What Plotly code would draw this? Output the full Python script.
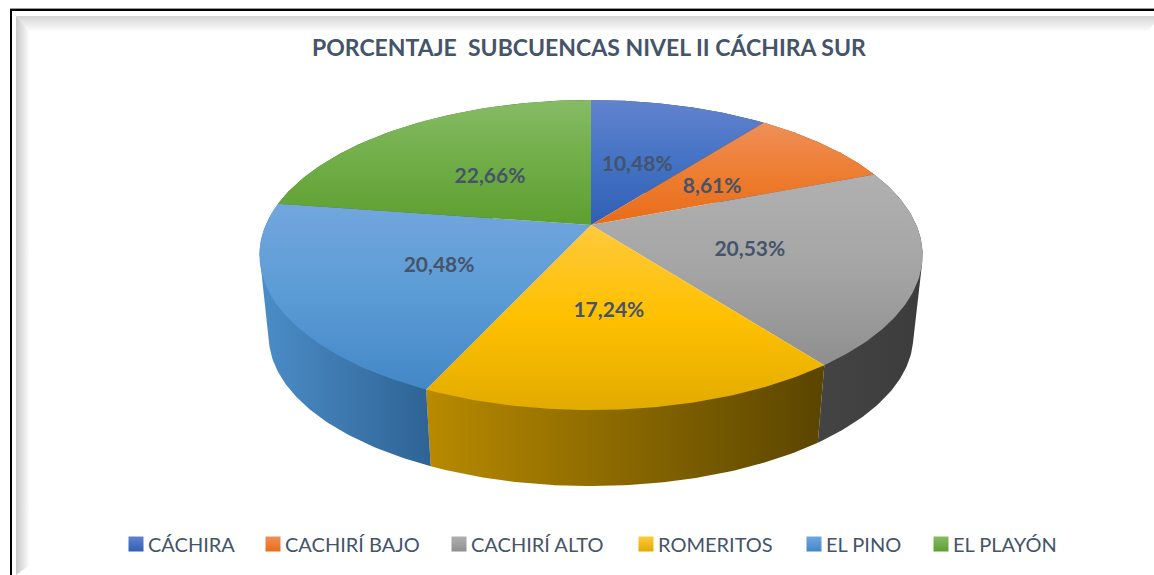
import math
import plotly.graph_objects as go

categories = ["CÁCHIRA", "CACHIRÍ BAJO", "CACHIRÍ ALTO", "ROMERITOS", "EL PINO", "EL PLAYÓN"]
values = [10.48, 8.61, 20.53, 17.24, 20.48, 22.66]
title_text = "PORCENTAJE  SUBCUENCAS NIVEL II CÁCHIRA SUR"

top_colors = [
    ["#6283CE", "#4472C4", "#2F5FB5"],
    ["#F08F58", "#ED7D31", "#E96C18"],
    ["#B0B0B0", "#A5A5A5", "#8F8F8F"],
    ["#FFC93C", "#FFC000", "#E2AB00"],
    ["#72A6DE", "#5B9BD5", "#4387C7"],
    ["#86BB65", "#70AD47", "#5E9F30"],
]
wall_colors = [
    ["#2F5597", "#203864"],
    ["#A64F14", "#7A3A0E"],
    ["#444444", "#3C3C3C"],
    ["#B88A00", "#5A4500"],
    ["#4C8DC8", "#2E6394"],
    ["#4E7A31", "#3A5B24"],
]
legend_widths = [92, 141, 142, 123, 82, 120]
TEXT = "#44546A"

CX, CY, A, B, K = 591.0, 225.0, 325.3, 149.2, 0.1935


def proj(deg, r=1.0):
    t = math.radians(deg)
    u, v = r * math.sin(t), r * math.cos(t)
    d = 1 + K * v
    return CX + A * u / d, CY - B * v / d


def drop(p):
    return CX + 0.972 * (p[0] - CX), 89.2 + 0.968 * p[1]


def hull(points):
    pts = sorted(set(points))

    def half(seq):
        out = []
        for p in seq:
            while len(out) > 1 and ((out[-1][0] - out[-2][0]) * (p[1] - out[-2][1])
                                    - (out[-1][1] - out[-2][1]) * (p[0] - out[-2][0])) <= 0:
                out.pop()
            out.append(p)
        return out[:-1]

    return half(pts) + half(pts[::-1])


def scale(cols):
    n = len(cols) - 1
    return [[i / n, c] for i, c in enumerate(cols)]


fig = go.Figure()


def poly(pts, cols, kind, name=""):
    xs = [p[0] for p in pts] + [pts[0][0]]
    ys = [p[1] for p in pts] + [pts[0][1]]
    vals = xs if kind == "horizontal" else ys
    fig.add_trace(go.Scatter(
        x=xs, y=ys, mode="lines", fill="toself", line=dict(width=0),
        fillgradient=dict(type=kind, colorscale=scale(cols), start=min(vals), stop=max(vals)),
        showlegend=False, hoverinfo="skip" if not name else "text", text=name,
    ))


# picture frame bevel
poly([(16, 16), (1154, 16), (1154, 24), (1147, 32), (30, 32)], ["#D4D4D4", "#FFFFFF"], "vertical")
poly([(16, 16), (30, 32), (30, 565), (16, 575)], ["#C8C8C8", "#FFFFFF"], "horizontal")

# slice angles from the values
total = sum(values)
edges = [0.0]
for val in values:
    edges.append(edges[-1] + val / total * 360)

# side walls first, top faces over them
for i, name in enumerate(categories):
    a0, a1 = edges[i], edges[i + 1]
    n = 80
    rim = [proj(a0 + (a1 - a0) * j / n) for j in range(n + 1)]
    poly(hull(rim + [drop(p) for p in rim]), wall_colors[i], "horizontal")
for i, name in enumerate(categories):
    a0, a1 = edges[i], edges[i + 1]
    n = 80
    rim = [proj(a0 + (a1 - a0) * j / n) for j in range(n + 1)]
    poly([(CX, CY)] + rim, top_colors[i], "vertical", f"{name}: {values[i]:.2f}%".replace(".", ","))

# data labels
mids = [(edges[i] + edges[i + 1]) / 2 for i in range(len(values))]
lab = [proj(m, 0.5) for m in mids]
fig.add_trace(go.Scatter(
    x=[p[0] - 2 for p in lab], y=[p[1] + 5 for p in lab], mode="text",
    text=[f"{v:.2f}%".replace(".", ",") for v in values],
    textposition="middle center",
    textfont=dict(family="Lato", size=21, color=TEXT, weight="bold"),
    showlegend=False, hoverinfo="skip",
))

# legend entries
for i, name in enumerate(categories):
    fig.add_trace(go.Scatter(
        x=[None], y=[None], mode="markers", name=name, legendwidth=legend_widths[i],
        marker=dict(symbol="square", size=15, color=top_colors[i][0],
                    gradient=dict(type="vertical", color=top_colors[i][2])),
    ))

fig.update_layout(
    width=1154, height=575, margin=dict(l=0, r=0, t=0, b=0, autoexpand=False),
    paper_bgcolor="white", plot_bgcolor="white",
    xaxis=dict(range=[0, 1154], visible=False, fixedrange=True),
    yaxis=dict(range=[575, 0], visible=False, fixedrange=True),
    showlegend=True,
    legend=dict(orientation="h", x=116 / 1154, xanchor="left", y=1 - 544 / 575, yanchor="middle",
                font=dict(family="Lato", size=20, color=TEXT), bgcolor="rgba(0,0,0,0)",
                itemsizing="trace", tracegroupgap=0),
    annotations=[dict(text=f"<b>{title_text}</b>", x=588.5 / 1154, y=1 - 47 / 575, xref="paper", yref="paper",
                      showarrow=False, xanchor="center", yanchor="middle",
                      font=dict(family="Lato", size=23, color=TEXT))],
    shapes=[
        dict(type="rect", x0=10, x1=1154, y0=8, y1=9, fillcolor="#9A9A9A", line_width=0, layer="below"),
        dict(type="rect", x0=10, x1=1154, y0=9, y1=11, fillcolor="#000000", line_width=0, layer="below"),
        dict(type="rect", x0=10, x1=12, y0=9, y1=575, fillcolor="#000000", line_width=0, layer="below"),
    ],
)

post = """
document.body.style.margin='0';document.body.style.overflow='hidden';
function tightenLegend(){document.querySelectorAll('.legendtext').forEach(function(t){t.setAttribute('x','32');});}
tightenLegend();setTimeout(tightenLegend,50);setTimeout(tightenLegend,300);
"""
fig.write_html("out.html", config=dict(displayModeBar=False), post_script=post)
